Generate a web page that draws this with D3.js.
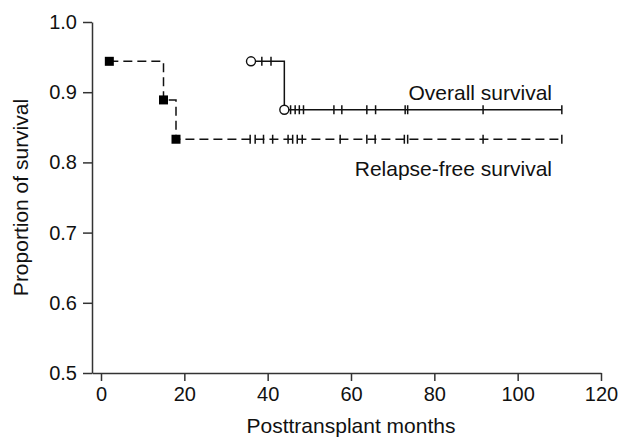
<!DOCTYPE html>
<html>
<head>
<meta charset="utf-8">
<script src="https://cdn.jsdelivr.net/npm/d3@7"></script>
<style>
  html, body { margin: 0; padding: 0; background: #fff; }
  svg { display: block; font-family: "Liberation Sans", Arial, sans-serif; }
</style>
</head>
<body>
<svg id="chart" width="620" height="441"></svg>
<script>
// ---- data ----
const xTicks = [0, 20, 40, 60, 80, 100, 120];
const yTicks = [0.5, 0.6, 0.7, 0.8, 0.9, 1.0];

// Relapse-free survival: event times and survival after each event
const rfsEventTimes = [2, 15, 18];
const rfsEventValues = [0.944, 0.889, 0.833];
const rfsEnd = 110.6;
const rfsCensored = [35.8, 37.0, 39.0, 41.2, 44.9, 46.0, 47.1, 48.3, 57.4, 63.8, 65.8, 72.8, 73.6, 91.7, 110.6];

// Overall survival
const osEventTimes = [36, 44];
const osEventValues = [0.944, 0.875];
const osEnd = 110.6;
const osCensored = [38.6, 40.8, 45.5, 46.6, 47.6, 48.6, 55.9, 57.8, 63.8, 65.9, 73.0, 73.6, 91.7, 110.6];

const labels = { os: "Overall survival", rfs: "Relapse-free survival",
                 x: "Posttransplant months", y: "Proportion of survival" };

// ---- scales ----
const svg = d3.select("#chart");
const x = d3.scaleLinear().domain([-2.16, 120]).range([92, 601]);
const y = d3.scaleLinear().domain([0.5, 1.0]).range([373, 22]);
const axisColor = "#333";

// ---- axes ----
const gx = svg.append("g").attr("transform", `translate(0,${y(0.5)})`)
  .call(d3.axisBottom(x).tickValues(xTicks).tickSize(8).tickSizeOuter(0).tickPadding(6)
        .tickFormat(d3.format("d")));
const gy = svg.append("g").attr("transform", `translate(${x.range()[0]},0)`)
  .call(d3.axisLeft(y).tickValues(yTicks).tickSize(9).tickSizeOuter(0).tickPadding(6)
        .tickFormat(d3.format(".1f")));
[gx, gy].forEach(g => {
  g.select(".domain").attr("stroke", axisColor).attr("stroke-width", 1.5);
  g.selectAll(".tick line").attr("stroke", axisColor).attr("stroke-width", 1.5);
  g.selectAll(".tick text").attr("fill", "#111").style("font-size", "20px")
    .style("font-family", "'Liberation Sans', Arial, sans-serif");
});

// ---- step curve helper ----
function stepPoints(times, values, end) {
  const pts = [];
  for (let i = 0; i < times.length; i++) {
    if (i > 0) pts.push([times[i], values[i - 1]]);
    pts.push([times[i], values[i]]);
  }
  pts.push([end, values[values.length - 1]]);
  return pts;
}
function valueAt(times, values, t) {
  let v = values[0];
  for (let i = 0; i < times.length; i++) if (t >= times[i]) v = values[i];
  return v;
}
const line = d3.line().x(d => x(d[0])).y(d => y(d[1]));

// RFS dashed line
svg.append("path")
  .attr("d", line(stepPoints(rfsEventTimes, rfsEventValues, rfsEnd)))
  .attr("fill", "none").attr("stroke", "#111").attr("stroke-width", 1.5)
  .attr("stroke-dasharray", "9,5");
// OS solid line
svg.append("path")
  .attr("d", line(stepPoints(osEventTimes, osEventValues, osEnd)))
  .attr("fill", "none").attr("stroke", "#111").attr("stroke-width", 1.5);

// censor ticks
svg.append("g").selectAll("line").data(rfsCensored).join("line")
  .attr("x1", d => x(d)).attr("x2", d => x(d))
  .attr("y1", d => y(valueAt(rfsEventTimes, rfsEventValues, d)) - 4.5)
  .attr("y2", d => y(valueAt(rfsEventTimes, rfsEventValues, d)) + 4.5)
  .attr("stroke", "#111").attr("stroke-width", 1.5);
svg.append("g").selectAll("line").data(osCensored).join("line")
  .attr("x1", d => x(d)).attr("x2", d => x(d))
  .attr("y1", d => y(valueAt(osEventTimes, osEventValues, d)) - 4.5)
  .attr("y2", d => y(valueAt(osEventTimes, osEventValues, d)) + 4.5)
  .attr("stroke", "#111").attr("stroke-width", 1.5);

// RFS squares
svg.append("g").selectAll("rect").data(rfsEventTimes.map((t, i) => [t, rfsEventValues[i]])).join("rect")
  .attr("x", d => x(d[0]) - 4.5).attr("y", d => y(d[1]) - 4.5)
  .attr("width", 9).attr("height", 9).attr("fill", "#000");
// OS circles
svg.append("g").selectAll("circle").data(osEventTimes.map((t, i) => [t, osEventValues[i]])).join("circle")
  .attr("cx", d => x(d[0])).attr("cy", d => y(d[1])).attr("r", 4.5)
  .attr("fill", "#fff").attr("stroke", "#111").attr("stroke-width", 1.4);

// series labels
svg.append("text").attr("x", 552).attr("y", 100).attr("text-anchor", "end")
  .style("font-size", "21px").attr("fill", "#111").text(labels.os);
svg.append("text").attr("x", 552).attr("y", 176).attr("text-anchor", "end")
  .style("font-size", "21px").attr("fill", "#111").text(labels.rfs);

// axis titles
svg.append("text").attr("x", (x(0) + x(120)) / 2).attr("y", 433).attr("text-anchor", "middle")
  .style("font-size", "21px").attr("fill", "#111").text(labels.x);
svg.append("text").attr("transform", `translate(28,${(y(0.5) + y(1)) / 2}) rotate(-90)`)
  .attr("text-anchor", "middle").style("font-size", "21px").attr("fill", "#111").text(labels.y);
</script>
</body>
</html>
